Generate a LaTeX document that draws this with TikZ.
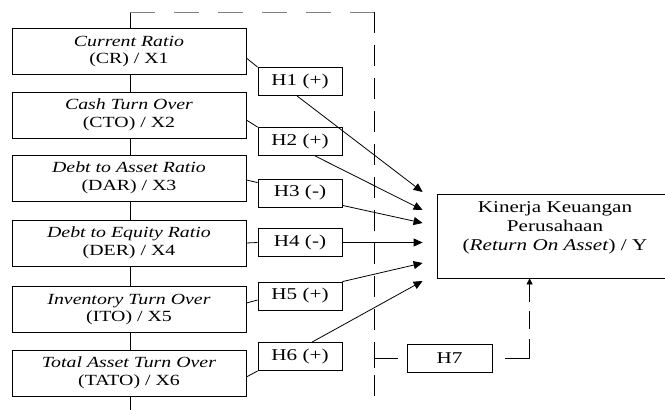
\documentclass[tikz,border=0pt]{standalone}
\usepackage{fontspec}
\setmainfont{Liberation Serif}[FakeStretch=1.28]
\usetikzlibrary{arrows.meta,calc}

\begin{document}
\begin{tikzpicture}[x=1pt,y=-1pt,
  line width=0.8pt,
  varbox/.style={draw, fill=white, minimum width=234pt, minimum height=46pt,
    inner sep=0pt, align=center, font=\fontsize{15.5}{17.5}\selectfont},
  hypbox/.style={draw, fill=white, minimum width=84pt, minimum height=28pt,
    inner sep=0pt, font=\fontsize{16.5}{19}\selectfont},
  arr/.style={-{Triangle[length=9pt,width=8pt]}},
  smallarr/.style={-{Triangle[length=6pt,width=6pt]}},
]
\useasboundingbox (0,0) rectangle (665,410);
\clip (0,0) rectangle (665,410);

% frame around the independent variables
\coordinate (ftl) at (130,12);
\coordinate (ftr) at (374,12);
\coordinate (fbl) at (130,410);
\coordinate (fbr) at (374,402);
\draw (ftl) -- (fbl);
\draw[gray, dash pattern=on 25pt off 19pt] (ftl) -- (ftr);
\draw[dash pattern=on 21pt off 12pt] (ftr) -- (fbr);

% independent variables
\node[varbox] (b1) at (129,51.5) {\textit{Current Ratio}\\(CR) / X1};
\node[varbox] (b2) at (129,115) {\textit{Cash Turn Over}\\(CTO) / X2};
\node[varbox] (b3) at (129,178) {\textit{Debt to Asset Ratio}\\(DAR) / X3};
\node[varbox] (b4) at (129,243) {\textit{Debt to Equity Ratio}\\(DER) / X4};
\node[varbox] (b5) at (129,309.5) {\textit{Inventory Turn Over}\\(ITO) / X5};
\node[varbox] (b6) at (129,373) {\textit{Total Asset Turn Over}\\(TATO) / X6};

% hypotheses
\node[hypbox] (h1) at (300,81.5) {H1 (+)};
\node[hypbox] (h2) at (300,141.5) {H2 (+)};
\node[hypbox] (h3) at (300,193) {H3 (-)};
\node[hypbox] (h4) at (300,242.5) {H4 (-)};
\node[hypbox] (h5) at (300,296) {H5 (+)};
\node[hypbox] (h6) at (300,356.5) {H6 (+)};
\node[hypbox, minimum width=85pt] (h7) at (449.5,358) {H7};

% dependent variable
\node[draw, fill=white, minimum width=236pt, minimum height=84pt, inner sep=0pt] (y) at (555,236) {};
\node[align=center, font=\fontsize{16.5}{19}\selectfont, yshift=8pt] (ytext) at (y.center)
  {Kinerja Keuangan\\Perusahaan\\(\textit{Return On Asset}) / Y};

% variable -> hypothesis links
\draw ([yshift=-6.5pt]b1.east) -- (h1.north west);
\draw ([yshift=-5pt]b2.east) -- (h2.north west);
\draw ([yshift=-2pt]b3.east) -- ([yshift=-4pt]h3.north west);
\draw (b4.east) -- (h4.west);
\draw ([yshift=6.5pt]b5.east) -- ([yshift=-4pt]h5.west);
\draw ([yshift=-4pt]b6.east) -- (h6.south west);

% arrow targets in front of Y
\coordinate (t1) at ([shift={(-14pt,44pt)}]y.west);
\coordinate (t2) at ([shift={(-14pt,26pt)}]y.west);
\coordinate (t3) at ([shift={(-14pt,13pt)}]y.west);
\coordinate (t5) at ([shift={(-14pt,-27pt)}]y.west);
\coordinate (t6) at ([shift={(-14pt,-45pt)}]y.west);

% hypothesis -> Y arrows
\draw[arr] ([xshift=-3pt]h1.south) -- (t1);
\draw[arr] ([xshift=15pt]h2.south) -- (t2);
\draw[arr] ([yshift=2pt]h3.south east) -- (t3);
\draw[arr] (h4.east) -- (h4.east -| t1);
\draw[arr] (h5.north east) -- (t5);
\draw[arr] ([xshift=12pt]h6.north) -- (t6);

% simultaneous hypothesis H7
\coordinate (h7src) at (fbr |- h7.west);
\draw ([yshift=9.5pt]h7src) -- ([yshift=-9.5pt]h7src);
\draw[dash pattern=on 24pt off 10pt] (h7src) -- (h7.west);
\coordinate (h7bend) at ([shift={(93pt,0pt)}]y.south west |- h7.east);
\draw[smallarr, dash pattern=on 0pt off 13pt on 43pt off 10pt on 18pt off 9pt on 30pt]
  (h7.east) -- (h7bend) -- (h7bend |- y.south);
\end{tikzpicture}
\end{document}
